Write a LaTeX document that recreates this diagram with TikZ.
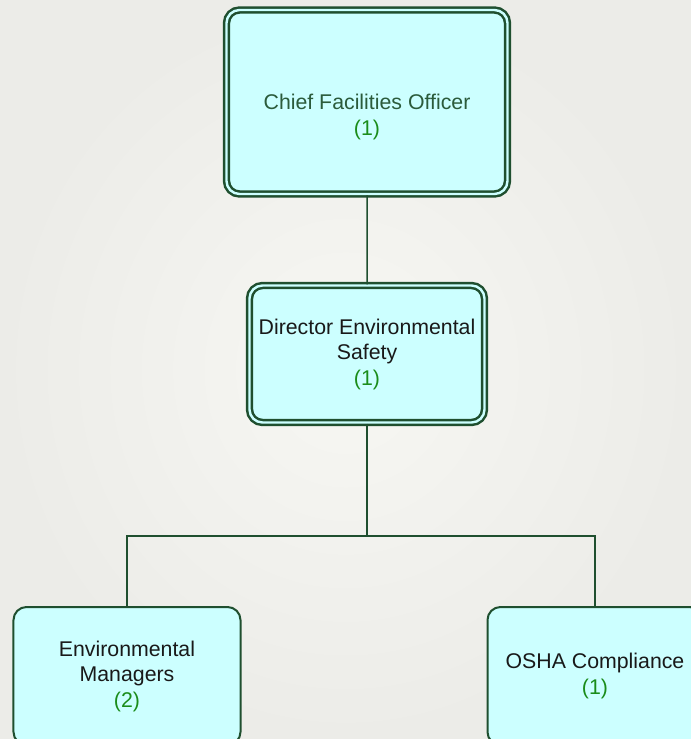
\documentclass[tikz,border=0pt]{standalone}
\usepackage{fontspec}
\setmainfont{Liberation Sans}
\usepackage{xcolor}
\usetikzlibrary{shapes,positioning,trees}
\definecolor{boxfill}{HTML}{CCFFFF}
\definecolor{boxline}{HTML}{1F4F2F}
\definecolor{headtext}{HTML}{2B5B3B}
\definecolor{cntgreen}{HTML}{1A8C1A}
\definecolor{pagebg}{HTML}{ECECE8}
\definecolor{bgcenter}{HTML}{F7F7F3}
\newcommand{\staff}[1]{\textcolor{cntgreen}{(#1)}}

\begin{document}
\begin{tikzpicture}[x=1bp, y=-1bp,
    level 1/.style={level distance=252bp},
    level 2/.style={grow via three points={one child at (-6,322) and two children at (-240,322) and (228,322)},
        edge from parent path={(\tikzparentnode.south) -- ++(0,112) -| (\tikzchildnode.north)}},
    edge from parent/.style={draw=boxline, line width=1.5bp},
    post/.style={draw=boxline, fill=boxfill, line width=2bp, rounded corners=13bp,
        align=center, text=black!90, font=\fontsize{21.3bp}{25.5bp}\selectfont},
    head/.style={post, double=boxfill, double distance=2.4bp, line width=2.5bp}]
    \useasboundingbox (0,0) rectangle (691,739);
    \clip (0,0) rectangle (691,739);
    \shade[inner color=bgcenter, outer color=pagebg] (0,0) rectangle (691,739);
    \node[head, minimum width=281bp, minimum height=184bp,
        label={[name=cfo-text, yshift=-15bp, align=center, text=headtext,
            font=\fontsize{21.3bp}{25.5bp}\selectfont]center:Chief Facilities Officer\\ \staff{1}}] (cfo) at (367,102) {}
        child {node[head, minimum width=235bp, minimum height=137bp] (des)
            {Director Environmental\\ Safety\\ \staff{1}}
            child {node[post, minimum width=227bp, minimum height=138bp] (envm)
                {Environmental\\ Managers\\ \staff{2}}}
            child {node[post, minimum width=215bp, minimum height=138bp] (osha)
                {OSHA Compliance\\ \staff{1}}}
        };
\end{tikzpicture}
\end{document}
